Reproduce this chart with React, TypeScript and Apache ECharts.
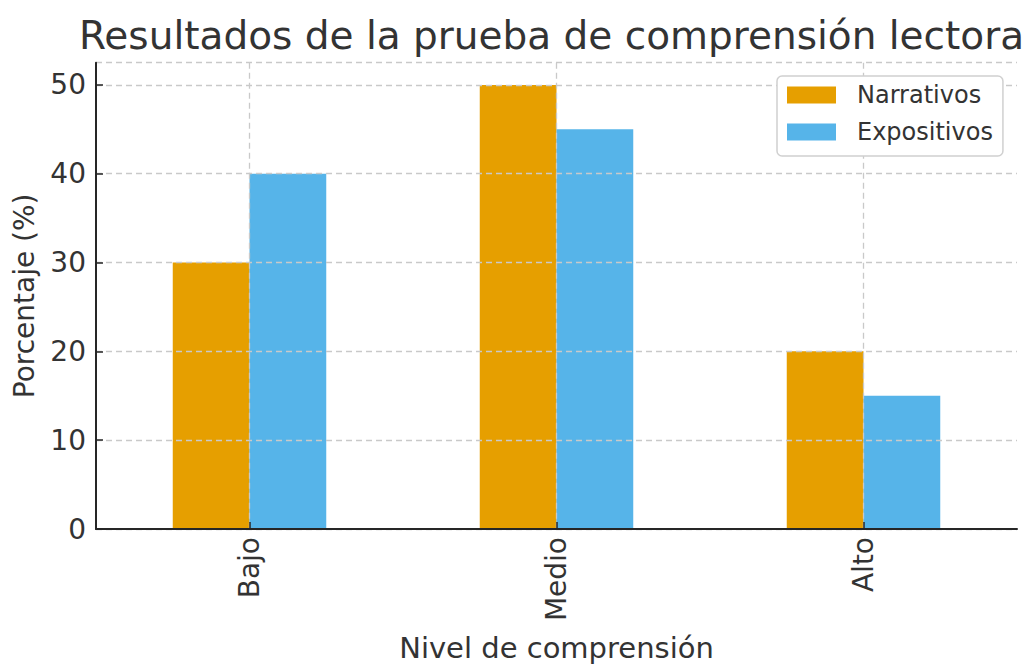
import React, { useEffect, useRef } from "react";
import * as echarts from "echarts";

const categories = ["Bajo", "Medio", "Alto"];
const narrativos = [30, 50, 20];
const expositivos = [40, 45, 15];
const seriesNames = ["Narrativos", "Expositivos"];
const gridCats = ["", "", "", "", "", "", ""];

const FONT = "DejaVu Sans";
const TEXT = "#333333";
const AXIS = "#262626";
const GRIDC = "#c9c9c9";

export default function App() {
  const ref = useRef<HTMLDivElement>(null);
  useEffect(() => {
    if (!ref.current) return;
    const chart = echarts.init(ref.current, undefined, { renderer: "svg" });
    chart.setOption({
      animation: false,
      backgroundColor: "#ffffff",
      textStyle: { fontFamily: FONT, color: TEXT },
      title: {
        text: "Resultados de la prueba de comprensión lectora",
        left: 79,
        top: 16,
        padding: 0,
        textStyle: { fontFamily: FONT, fontSize: 39, fontWeight: "normal", color: TEXT, lineHeight: 39 },
      },
      legend: {
        orient: "vertical",
        left: 777,
        top: 76,
        padding: [7, 10, 12, 10],
        itemGap: 13,
        itemWidth: 49,
        itemHeight: 17,
        icon: "rect",
        backgroundColor: "#ffffff",
        borderColor: "#d0d0d0",
        borderWidth: 1.5,
        borderRadius: 5,
        data: seriesNames,
        textStyle: { fontFamily: FONT, fontSize: 24, color: TEXT, lineHeight: 24, padding: [0, 0, 0, 16] },
      },
      grid: { left: 96, right: 16, top: 62.7, bottom: 127, containLabel: false },
      xAxis: [
        {
          type: "category",
          data: categories,
          z: 4,
          axisLine: { show: true, lineStyle: { color: AXIS, width: 2 } },
          axisTick: { show: true, inside: true, alignWithLabel: true, length: 7, lineStyle: { color: AXIS, width: 1.5 } },
          axisLabel: { rotate: 90, fontSize: 28, color: TEXT, fontFamily: FONT, margin: 8 },
          splitLine: { show: false },
          name: "Nivel de comprensión",
          nameLocation: "middle",
          nameGap: 104,
          nameTextStyle: { fontSize: 29, color: TEXT, fontFamily: FONT },
        },
        {
          type: "category",
          data: gridCats,
          boundaryGap: false,
          position: "bottom",
          z: 3,
          axisLine: { show: false },
          axisTick: { show: false },
          axisLabel: { show: false },
          splitLine: {
            show: true,
            interval: (i: number) => i % 2 === 1,
            lineStyle: { color: GRIDC, type: [6, 4], width: 1.3 },
          },
        },
      ],
      yAxis: [
        {
          type: "value",
          min: 0,
          max: 52.5,
          interval: 10,
          z: 4,
          axisLine: { show: true, lineStyle: { color: AXIS, width: 2 } },
          axisTick: { show: true, inside: true, length: 7, lineStyle: { color: AXIS, width: 1.5 } },
          axisLabel: { fontSize: 28, color: TEXT, fontFamily: FONT, margin: 10, showMaxLabel: false },
          splitLine: { show: false },
          name: "Porcentaje (%)",
          nameLocation: "middle",
          nameGap: 58,
          nameTextStyle: { fontSize: 28, color: TEXT, fontFamily: FONT },
        },
        {
          type: "value",
          min: 0,
          max: 52.5,
          interval: 10,
          z: 3,
          axisLine: { show: false },
          axisTick: { show: false },
          axisLabel: { show: false },
          splitLine: { show: true, lineStyle: { color: GRIDC, type: [6, 4], width: 1.3 } },
        },
      ],
      series: [
        {
          name: seriesNames[0],
          type: "bar",
          data: narrativos,
          xAxisIndex: 0,
          yAxisIndex: 0,
          barGap: "0%",
          barCategoryGap: "50%",
          itemStyle: { color: "#E69F00" },
        },
        {
          name: seriesNames[1],
          type: "bar",
          data: expositivos,
          xAxisIndex: 0,
          yAxisIndex: 0,
          barGap: "0%",
          barCategoryGap: "50%",
          itemStyle: { color: "#56B4E9" },
        },
      ],
    });
    return () => chart.dispose();
  }, []);
  return <div ref={ref} style={{ position: "fixed", left: 0, top: 0, width: 1033, height: 667 }} />;
}
